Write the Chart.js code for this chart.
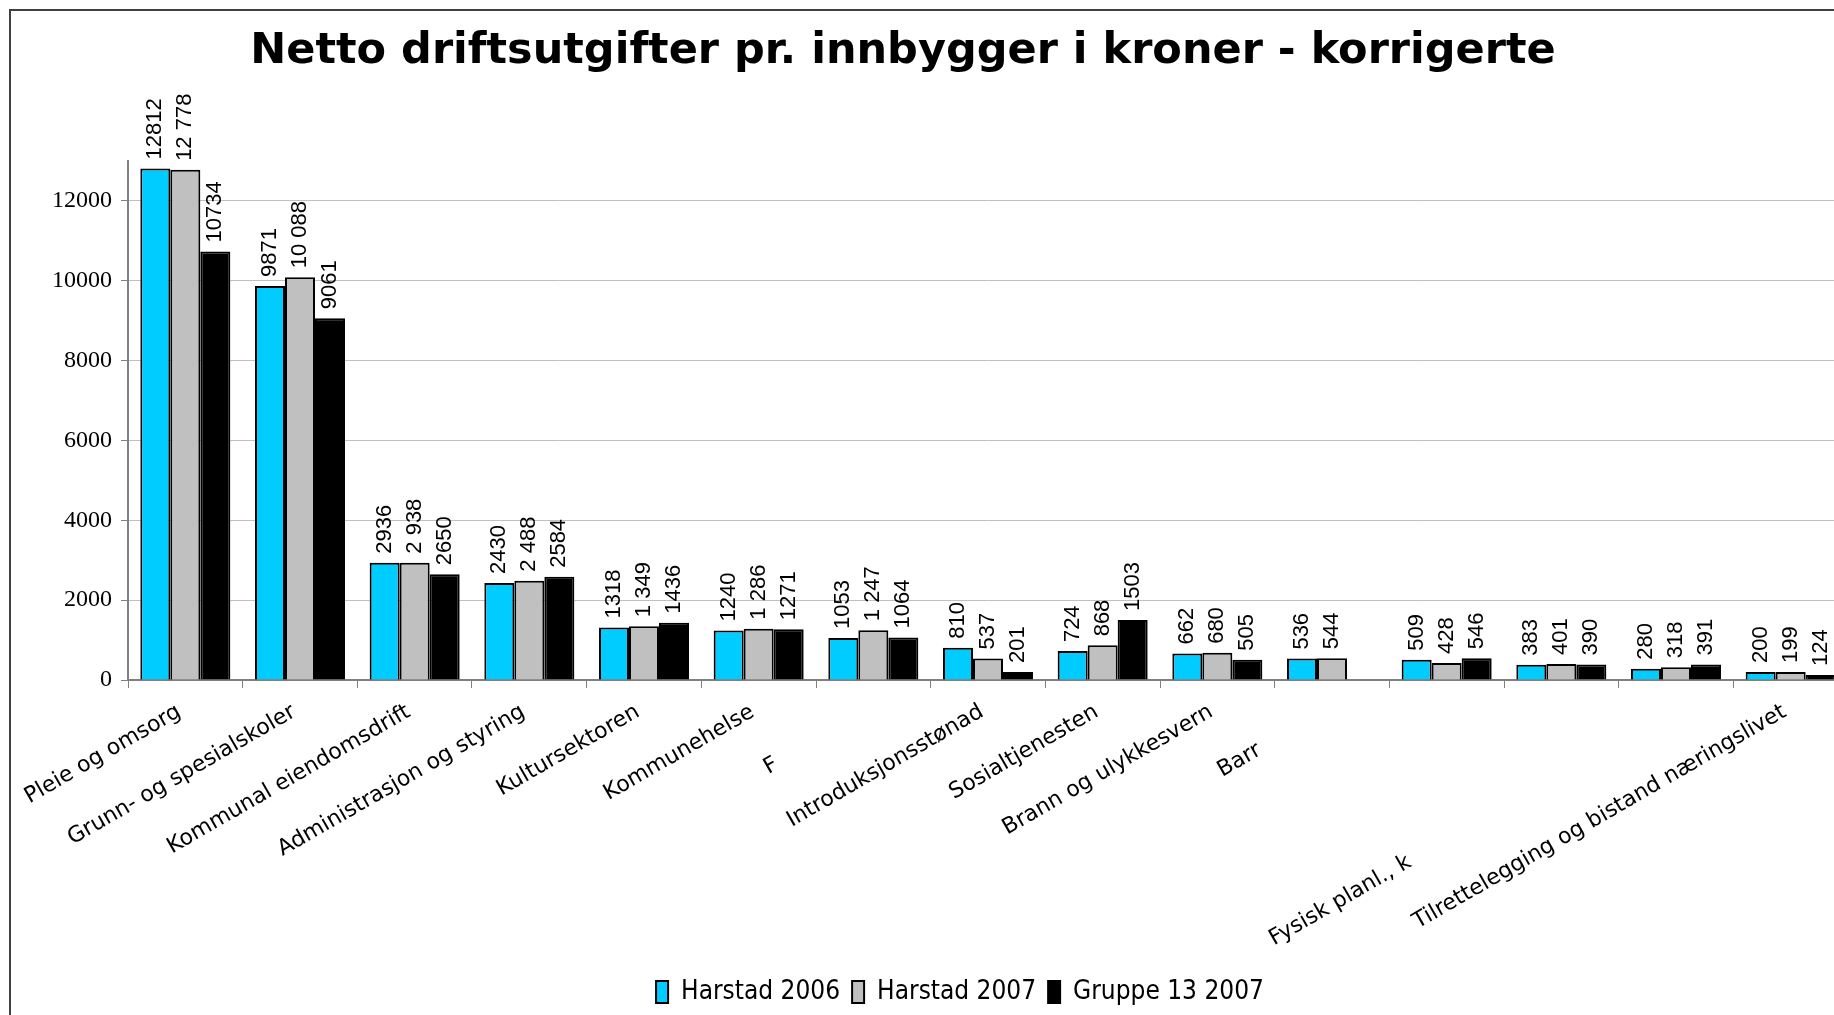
<!DOCTYPE html>
<html lang="no">
<head>
    <meta charset="UTF-8">
    <title>Netto driftsutgifter</title>
    <script src="https://cdn.jsdelivr.net/npm/chart.js"></script>
    <style>
        body { margin: 0; background: #fff; overflow: hidden; width: 1834px; height: 1015px; }
        #frame { position: absolute; left: 9px; top: 9px; right: -10px; bottom: -10px; border-left: 2px solid #404040; border-top: 2px solid #404040; }
        #title { position: absolute; left: 903px; top: 23px; transform: translateX(-50%); white-space: nowrap;
                 font-family: "DejaVu Sans", Verdana, sans-serif; font-weight: bold; font-size: 43px; line-height: 50px; color: #000; }
        #wrap { position: absolute; left: 10px; top: 10px; }
    </style>
</head>
<body>

<div id="frame"></div>
<div id="wrap"><canvas id="chart" width="1900" height="1005"></canvas></div>
<div id="title">Netto driftsutgifter pr. innbygger i kroner - korrigerte</div>

<script>
    // trailing no-break spaces push the clipped labels down their slanted line, as in the original
    const nb = n => '\u00A0'.repeat(n);

    const categories = [
        'Pleie og omsorg', 'Grunn- og spesialskoler', 'Kommunal eiendomsdrift',
        'Administrasjon og styring', 'Kultursektoren', 'Kommunehelse', 'F' + nb(15),
        'Introduksjonsstønad', 'Sosialtjenesten', 'Brann og ulykkesvern', 'Barr' + nb(11),
        '', '', 'Fysisk planl., k' + nb(43), 'Tilrettelegging og bistand næringslivet'
    ];
    const harstad2006 = [12812, 9871, 2936, 2430, 1318, 1240, 1053, 810, 724, 662, 536, 509, 383, 280, 200];
    const harstad2007 = [12778, 10088, 2938, 2488, 1349, 1286, 1247, 537, 868, 680, 544, 428, 401, 318, 199];
    const gruppe13 = [10734, 9061, 2650, 2584, 1436, 1271, 1064, 201, 1503, 505, null, 546, 390, 391, 124];
    const yTicks = [0, 2000, 4000, 6000, 8000, 10000, 12000];

    function fmt(i, v) {
        // Harstad 2007 is printed with a space as thousands separator
        if (i === 1) return String(v).replace(/\B(?=(\d{3})+(?!\d))/g, ' ');
        return String(v);
    }

    const barLabels = {
        id: 'barLabels',
        afterDatasetsDraw(chart) {
            const ctx = chart.ctx;
            ctx.save();
            ctx.font = '22px "Liberation Sans", Arial, sans-serif';
            ctx.fillStyle = '#000';
            ctx.textAlign = 'left';
            ctx.textBaseline = 'middle';
            chart.data.datasets.forEach((ds, i) => {
                chart.getDatasetMeta(i).data.forEach((bar, j) => {
                    const v = ds.data[j];
                    if (v == null) return;
                    ctx.save();
                    ctx.translate(bar.x, bar.y - 9);
                    ctx.rotate(-Math.PI / 2);
                    ctx.fillText(fmt(i, v), 0, 0);
                    ctx.restore();
                });
            });
            ctx.restore();
        }
    };

    const ctx = document.getElementById('chart').getContext('2d');
    const chart = new Chart(ctx, {
        type: 'bar',
        data: {
            labels: categories,
            datasets: [
                { label: 'Harstad 2006', data: harstad2006, backgroundColor: '#00CCFF' },
                { label: 'Harstad 2007', data: harstad2007, backgroundColor: '#C0C0C0' },
                { label: 'Gruppe 13 2007', data: gruppe13, backgroundColor: '#000000' }
            ]
        },
        options: {
            responsive: false,
            animation: false,
            devicePixelRatio: 1,
            layout: { padding: { top: 151, bottom: 0, left: 0, right: 0 } },
            datasets: {
                bar: { borderColor: '#000', borderWidth: 2, categoryPercentage: 0.785, barPercentage: 1 }
            },
            scales: {
                x: {
                    grid: { offset: true, drawOnChartArea: false, tickColor: '#808080', tickLength: 8 },
                    border: { color: '#808080', width: 2 },
                    ticks: {
                        autoSkip: false, minRotation: 30, maxRotation: 30, padding: 11, labelOffset: -6, color: '#000',
                        font: { family: '"DejaVu Sans", Verdana, sans-serif', size: 22 }
                    },
                    afterFit: s => { s.height = 287; s.paddingLeft = 0; s.paddingRight = 0; }
                },
                y: {
                    min: 0, max: 13000,
                    afterBuildTicks: s => { s.ticks = yTicks.map(v => ({ value: v })); },
                    afterFit: s => { s.width = 118; },
                    grid: {
                        color: c => (c.tick && c.tick.value === 0) ? 'rgba(0,0,0,0)' : '#C0C0C0',
                        tickColor: '#808080', tickLength: 7
                    },
                    border: { color: '#808080', width: 2 },
                    ticks: {
                        padding: 9, color: '#000',
                        callback: v => String(v),
                        font: { family: '"Liberation Serif", "Times New Roman", serif', size: 24 }
                    }
                },
                yRight: {
                    position: 'right', display: true,
                    grid: { display: false }, ticks: { display: false }, border: { display: false },
                    afterFit: s => { s.width = 62; }
                }
            },
            plugins: {
                tooltip: { enabled: false },
                legend: {
                    position: 'bottom',
                    labels: {
                        boxWidth: 12, boxHeight: 22, padding: 12, color: '#000',
                        font: { family: '"DejaVu Sans Condensed", "Liberation Sans", sans-serif', size: 26 }
                    }
                }
            }
        },
        plugins: [barLabels]
    });
</script>

</body>
</html>
